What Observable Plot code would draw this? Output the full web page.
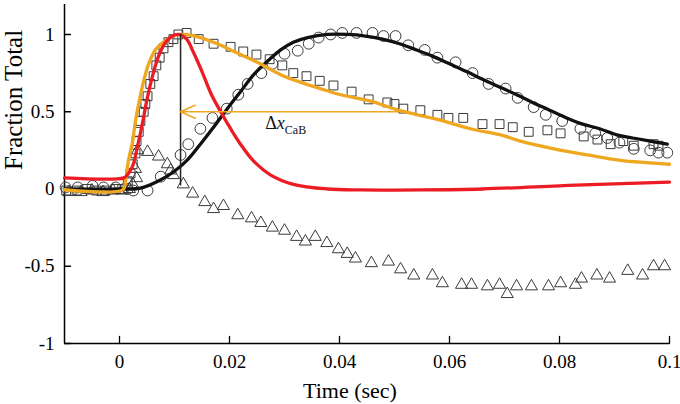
<!DOCTYPE html>
<html><head><meta charset="utf-8">
<script src="https://cdn.jsdelivr.net/npm/d3@7"></script>
<script src="https://cdn.jsdelivr.net/npm/@observablehq/plot@0.6"></script>
<style>body{margin:0;background:#fff} #chart svg{display:block} #chart svg text{font-family:'Liberation Serif','Times New Roman',serif}</style>
</head><body><div id="chart"></div>
<script>
const xDomain = [-0.01, 0.1];
const yDomain = [-1, 1.194];
const xTicks = [0, 0.02, 0.04, 0.06, 0.08, 0.1];
const yTicks = [-1, -0.5, 0, 0.5, 1];
const xLabel = "Time (sec)";
const yLabel = "Fraction Total";

// circles (data for black fit)
const circlePts = [[-0.0098,0.01],[-0.0076,0.01],[-0.0049,0.02],[-0.0029,0.01],[-0.0007,0.01],[0.0015,0.0],[0.0025,-0.01],[0.0051,-0.01],
 [0.0075,0.08],[0.0111,0.22],[0.0125,0.29],[0.0147,0.39],[0.0169,0.46],[0.0195,0.52],[0.0216,0.61],[0.0233,0.68],[0.0258,0.75],[0.0278,0.81],
 [0.03,0.875],[0.0324,0.895],[0.0344,0.94],[0.0362,0.98],[0.0384,1.0],[0.0405,1.01],[0.0431,1.01],[0.046,1.01],[0.048,0.99],[0.0502,0.99],
 [0.0525,0.93],[0.0555,0.90],[0.0578,0.85],[0.0611,0.82],[0.0642,0.75],[0.0671,0.68],[0.0702,0.65],[0.0724,0.59],[0.0753,0.53],[0.0775,0.48],
 [0.0805,0.44],[0.0838,0.39],[0.0865,0.36],[0.0887,0.33],[0.0909,0.30],[0.0935,0.26],[0.0965,0.25],[0.098,0.235],[0.0996,0.235]];

// squares (data for orange fit)
const squarePts = [[-0.0097,-0.01],[-0.0078,-0.01],[-0.006,0.0],[-0.0042,-0.01],[-0.0025,-0.01],[-0.0007,0.0],[0.0005,0.0],
 [0.0015,0.05],[0.002,0.10],[0.0024,0.16],[0.0029,0.23],[0.0031,0.31],[0.0035,0.37],[0.0038,0.44],[0.0044,0.50],[0.0047,0.55],[0.0051,0.60],
 [0.0056,0.68],[0.0062,0.73],[0.0067,0.80],[0.0073,0.85],[0.008,0.91],[0.0089,0.95],[0.0098,0.97],[0.0107,1.0],[0.0122,1.01],
 [0.0144,0.97],[0.0171,0.94],[0.0202,0.92],[0.0225,0.89],[0.0249,0.87],[0.0273,0.84],[0.0296,0.80],[0.0316,0.75],[0.034,0.73],[0.0364,0.70],
 [0.0389,0.67],[0.0422,0.63],[0.0453,0.58],[0.0487,0.56],[0.05,0.55],[0.0516,0.52],[0.0547,0.51],[0.0578,0.48],[0.0598,0.46],[0.0625,0.46],
 [0.066,0.42],[0.0691,0.42],[0.0715,0.40],[0.0744,0.37],[0.0778,0.38],[0.0802,0.36],[0.0844,0.34],[0.0869,0.32],[0.0893,0.29],[0.0916,0.31],
 [0.0935,0.28],[0.0971,0.29],[0.098,0.28]];

// triangles (difference)
const trianglePts = [[-0.0092,-0.02],[-0.007,-0.02],[-0.005,-0.01],[-0.003,-0.02],[-0.0012,-0.01],[0.0005,-0.01],[0.0018,0.0],
 [0.0024,0.03],[0.0029,0.13],[0.0031,0.07],[0.0033,0.25],[0.0051,0.24],[0.0071,0.21],[0.0087,0.16],[0.0093,0.12],[0.0098,0.09],[0.0116,0.03],
 [0.0133,-0.03],[0.0155,-0.085],[0.0171,-0.13],[0.0189,-0.11],[0.0215,-0.17],[0.024,-0.19],[0.0257,-0.22],[0.0278,-0.25],[0.030,-0.27],
 [0.0322,-0.31],[0.0338,-0.34],[0.0356,-0.31],[0.0377,-0.35],[0.0398,-0.39],[0.0414,-0.42],[0.0429,-0.45],[0.0458,-0.48],[0.0489,-0.47],
 [0.0511,-0.52],[0.0535,-0.56],[0.0569,-0.56],[0.0587,-0.61],[0.0622,-0.62],[0.064,-0.62],[0.0669,-0.63],[0.0691,-0.62],[0.0705,-0.68],
 [0.0722,-0.63],[0.0749,-0.63],[0.078,-0.63],[0.0802,-0.61],[0.0829,-0.62],[0.084,-0.58],[0.0868,-0.56],[0.0891,-0.58],[0.0924,-0.53],
 [0.0951,-0.56],[0.0971,-0.50],[0.0991,-0.50]];

const blackCurve = [[-0.01,0.0],[0.0005,0.0],[0.0038,0.005],[0.0075,0.06],[0.0098,0.11],[0.0124,0.19],[0.0147,0.29],[0.0171,0.40],[0.0196,0.52],
 [0.022,0.63],[0.0244,0.74],[0.027,0.83],[0.0293,0.90],[0.0316,0.95],[0.0342,0.98],[0.0378,1.0],[0.0415,1.0],[0.0447,0.99],[0.0478,0.97],
 [0.0509,0.94],[0.054,0.90],[0.0569,0.86],[0.06,0.81],[0.0631,0.76],[0.066,0.71],[0.0691,0.66],[0.0722,0.61],[0.0751,0.56],[0.0782,0.51],
 [0.0813,0.46],[0.0842,0.42],[0.0873,0.39],[0.0904,0.35],[0.0933,0.33],[0.0964,0.31],[0.0996,0.29]];

const orangeCurve = [[-0.01,-0.005],[0.0006,-0.005],[0.0011,0.05],[0.0016,0.18],[0.0024,0.31],[0.0029,0.44],[0.0036,0.57],[0.0044,0.70],
 [0.0053,0.81],[0.0065,0.90],[0.008,0.95],[0.0098,0.99],[0.0115,1.0],[0.0147,0.98],[0.0184,0.93],[0.022,0.87],[0.0256,0.81],[0.0293,0.74],
 [0.033,0.69],[0.0365,0.65],[0.0402,0.61],[0.0455,0.57],[0.0507,0.51],[0.0578,0.45],[0.0638,0.39],[0.0698,0.345],[0.0729,0.31],[0.079,0.26],
 [0.0851,0.22],[0.0911,0.185],[0.1,0.16]];

const redCurve = [[-0.01,0.072],[0.0008,0.072],[0.0014,0.09],[0.0024,0.15],[0.0033,0.28],[0.0042,0.43],[0.005,0.58],[0.006,0.73],[0.007,0.85],
 [0.0082,0.94],[0.0096,0.99],[0.0108,1.0],[0.0122,0.97],[0.0135,0.88],[0.015,0.76],[0.0166,0.62],[0.0184,0.50],[0.0202,0.39],[0.022,0.29],
 [0.0244,0.18],[0.0275,0.09],[0.0316,0.03],[0.0378,0.0],[0.044,-0.006],[0.055,-0.006],[0.066,0.0],[0.083,0.025],[0.1,0.045]];

const peakLine = [{t: 0.0111, v1: 0.02, v2: 1.0}];
const deltaArrow = [{t1: 0.0507, t2: 0.0111, v: 0.5}];
const deltaLabel = [{t: 0.0265, v: 0.425, label: "ΔxCaB"}];

const rows = pts => pts.map(([t, v]) => ({t, v}));
const RED = "#ec1c24", ORANGE = "#eea71f", BLACK = "#111111", MARK = "#3a3a3a";
const tickShape = {draw(context, l) { context.moveTo(0, 0); context.lineTo(0, -l); }};
const fmt = d => String(d);

const plot = Plot.plot({
  width: 680, height: 404,
  marginLeft: 64, marginRight: 11, marginTop: 4, marginBottom: 61,
  style: "font-family: 'Liberation Serif', 'Times New Roman', serif; font-size: 19px; background: #fff; color: #000;",
  x: {domain: xDomain},
  y: {domain: yDomain},
  marks: [
    Plot.ruleX([xDomain[0]], {stroke: "#000", strokeWidth: 1.5}),
    Plot.ruleY([yDomain[0]], {stroke: "#000", strokeWidth: 1.5}),
    Plot.vector(xTicks, {x: d => d, frameAnchor: "bottom", length: 7, rotate: 0, anchor: "start", shape: tickShape, stroke: "#000", strokeWidth: 1.3}),
    Plot.vector(yTicks, {y: d => d, frameAnchor: "left", length: 6, rotate: 90, anchor: "start", shape: tickShape, stroke: "#000", strokeWidth: 1.3}),
    Plot.axisX(xTicks, {tickSize: 0, tickPadding: 11, fontSize: 19, tickFormat: fmt, label: null}),
    Plot.axisY(yTicks, {tickSize: 0, tickPadding: 10, fontSize: 19, tickFormat: fmt, label: null}),
    Plot.text([xLabel], {frameAnchor: "bottom", dx: -17, dy: 47, lineAnchor: "middle", fontSize: 22}),
    Plot.text([yLabel], {frameAnchor: "left", dx: -51, dy: -4, rotate: -90, lineAnchor: "middle", fontSize: 25}),
    Plot.dot(rows(circlePts), {x: "t", y: "v", symbol: "circle", r: 5.4, stroke: MARK, strokeWidth: 1, fill: "none"}),
    Plot.dot(rows(squarePts), {x: "t", y: "v", symbol: "square", r: 5, stroke: MARK, strokeWidth: 1, fill: "none"}),
    Plot.dot(rows(trianglePts), {x: "t", y: "v", symbol: "triangle", r: 4.5, stroke: MARK, strokeWidth: 1, fill: "none"}),
    Plot.line(rows(blackCurve), {x: "t", y: "v", stroke: BLACK, strokeWidth: 3.3, curve: "catmull-rom"}),
    Plot.line(rows(orangeCurve), {x: "t", y: "v", stroke: ORANGE, strokeWidth: 3.3, curve: "catmull-rom"}),
    Plot.line(rows(redCurve), {x: "t", y: "v", stroke: RED, strokeWidth: 3.3, curve: "catmull-rom"}),
    Plot.ruleX(peakLine, {x: "t", y1: "v1", y2: "v2", stroke: "#222", strokeWidth: 1.5}),
    Plot.arrow(deltaArrow, {x1: "t1", x2: "t2", y1: "v", y2: "v", stroke: ORANGE, strokeWidth: 1.6, headLength: 15, headAngle: 48}),
    Plot.text(deltaLabel, {x: "t", y: "v", text: "label", textAnchor: "start", fontSize: 18, fill: "#111"})
  ]
});

// rich formatting for the Δx_CaB label (italic x, subscript CaB)
plot.querySelectorAll("text").forEach(el => {
  if (el.textContent === "ΔxCaB") {
    el.textContent = "";
    const ns = "http://www.w3.org/2000/svg";
    const a = document.createElementNS(ns, "tspan"); a.textContent = "Δ";
    const b = document.createElementNS(ns, "tspan"); b.textContent = "x"; b.setAttribute("font-style", "italic");
    const c = document.createElementNS(ns, "tspan"); c.textContent = "CaB"; c.setAttribute("font-size", "12"); c.setAttribute("dy", "5");
    el.append(a, b, c);
  }
});
document.getElementById("chart").appendChild(plot);
</script>
</body></html>
